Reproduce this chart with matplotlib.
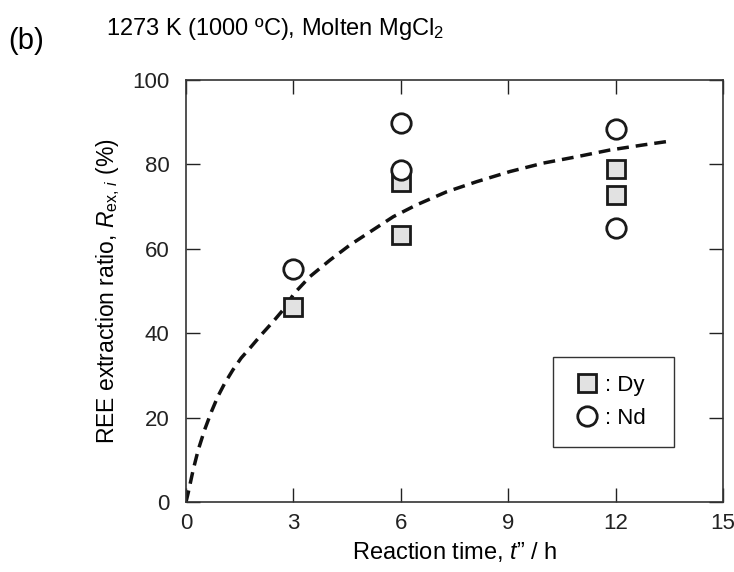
import matplotlib
matplotlib.use('Agg')
import matplotlib.pyplot as plt

plt.rcParams['font.family'] = ['Liberation Sans', 'DejaVu Sans']
plt.rcParams['mathtext.fontset'] = 'custom'
plt.rcParams['mathtext.rm'] = 'Liberation Sans'
plt.rcParams['mathtext.it'] = 'Liberation Sans:italic'

# --- data ------------------------------------------------------------------
dy_t = [3, 6, 6, 12, 12]
dy_R = [46.2, 75.8, 63.3, 79.0, 72.7]
nd_t = [3, 6, 6, 12, 12]
nd_R = [55.2, 89.8, 78.7, 88.4, 65.0]

# dashed guide curve, traced points
fit_t = [0.0, 0.06, 0.20, 0.34, 0.52, 0.71, 0.89, 1.08, 1.31, 1.54, 1.82, 2.10,
         2.43, 2.71, 3.02, 3.46, 4.02, 4.58, 5.23, 5.79, 6.44, 7.28, 8.12, 9.05,
         9.98, 10.91, 11.84, 12.77, 13.51]
fit_R = [0.0, 2.1, 7.6, 12.3, 17.1, 21.4, 25.0, 28.1, 31.3, 34.1, 36.8, 39.6,
         42.7, 45.5, 49.4, 53.4, 57.3, 60.9, 64.5, 67.6, 70.4, 73.5, 75.9, 78.3,
         80.3, 81.8, 83.4, 84.6, 85.5]

xticks = [0, 3, 6, 9, 12, 15]
yticks = [0, 20, 40, 60, 80, 100]

fig = plt.figure(figsize=(7.34, 5.72), dpi=100)
ax = fig.add_axes([0.2534, 0.1224, 0.7316, 0.7378])

ax.plot(fit_t, fit_R, ls=(0, (3.4, 2.0)), c='#111111', lw=2.5, zorder=2)
ax.plot(dy_t, dy_R, ls='none', marker='s', ms=12.5, mfc='#e2e2e2', mec='#1a1a1a',
        mew=2.0, zorder=3, label=': Dy')
ax.plot(nd_t, nd_R, ls='none', marker='o', ms=14, mfc='white', mec='#1a1a1a',
        mew=2.0, zorder=4, label=': Nd')

ax.set_xlim(0, 15)
ax.set_ylim(0, 100)
ax.set_xticks(xticks)
ax.set_yticks(yticks)
ax.tick_params(axis='both', direction='in', length=10, width=1.0, color='#222222',
               labelsize=16, labelcolor='#222222', top=True, right=True)
ax.tick_params(axis='x', pad=8)
ax.tick_params(axis='y', pad=12)
for sp in ax.spines.values():
    sp.set_linewidth(1.2)
    sp.set_color('#333333')

ax.set_xlabel('Reaction time, $\\mathit{t}$\u201d / h', fontsize=17, labelpad=4)
ax.set_ylabel('REE extraction ratio, $\\mathit{R}_{\\mathrm{ex},\\,\\mathit{i}}$ (%)',
              fontsize=16.5, labelpad=7)

leg = ax.legend(loc='upper left', bbox_to_anchor=(0.683, 0.107, 0.226, 0.237),
                mode='expand', fontsize=16, frameon=True, fancybox=False,
                handletextpad=0.05, labelspacing=0.55, borderpad=0.8,
                handlelength=1.5, borderaxespad=0)
leg.get_frame().set_edgecolor('#333333')
leg.get_frame().set_linewidth(1.0)
leg.get_frame().set_alpha(1)

fig.text(0.011, 0.915, '(b)', fontsize=21)
fig.text(0.144, 0.938, '1273 K (1000 \u00baC), Molten MgCl$_2$', fontsize=17)

fig.savefig('out.png', dpi=100)
